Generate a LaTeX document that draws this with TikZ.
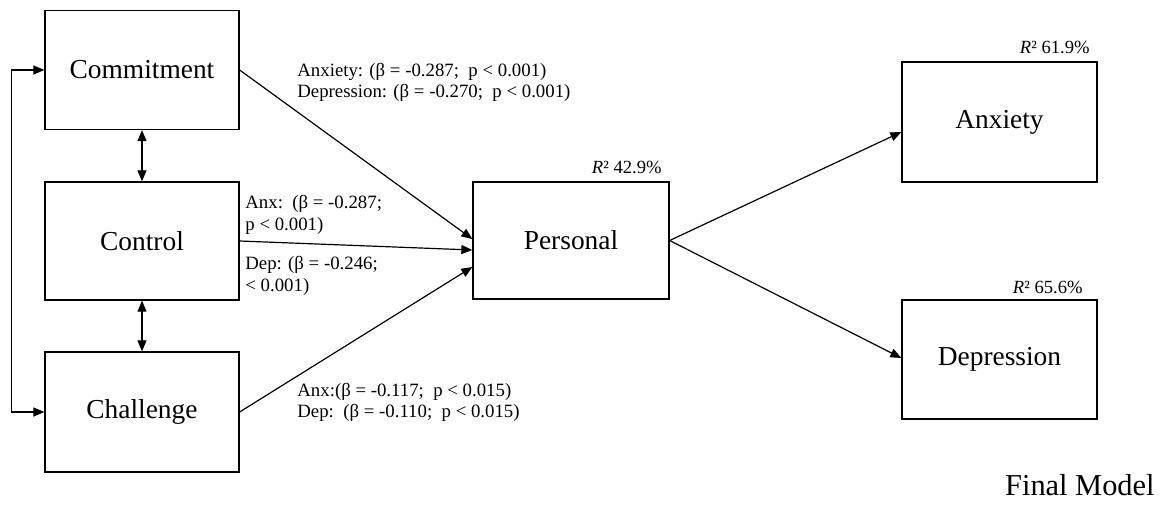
\documentclass[tikz,border=0pt]{standalone}
\usepackage{fontspec}
\setmainfont{Liberation Serif}
\usetikzlibrary{arrows.meta}
\begin{document}
\begin{tikzpicture}[x=0.5pt,y=-0.5pt,
  box/.style={draw, line width=0.65pt, inner sep=0pt, font=\fontsize{13.7}{16}\selectfont},
  arr/.style={line width=0.6pt, -{Triangle[length=5.5pt,width=4.5pt]}},
  darr/.style={line width=0.6pt, {Triangle[length=5.5pt,width=4.5pt]}-{Triangle[length=5.5pt,width=4.5pt]}},
  lbl/.style={inner sep=0pt, align=left, font=\fontsize{9.4}{10.8}\selectfont},
  rsq/.style={inner sep=0pt, font=\fontsize{9.3}{11}\selectfont}]
\useasboundingbox (0,0) rectangle (1163,515);
\node[box, minimum width=97pt, minimum height=59.5pt] (com) at (142,70) {Commitment};
\node[box, minimum width=97pt, minimum height=59pt] (con) at (142,241) {Control};
\node[box, minimum width=97pt, minimum height=60pt] (cha) at (142,412) {Challenge};
\node[box, minimum width=98pt, minimum height=58.5pt] (per) at (571,240.5) {Personal};
\node[box, minimum width=97.5pt, minimum height=60pt] (anx) at (999.5,122) {Anxiety};
\node[box, minimum width=97.5pt, minimum height=59.5pt] (dep) at (999.5,359.5) {Depression};

\draw[darr] (com.south) -- (con.north);
\draw[darr] (con.south) -- (cha.north);
\draw[darr] (com.west) -- ++(-33,0) |- (cha.west);

\draw[arr] (com.east) -- ([yshift=0.75pt]per.west);
\draw[arr] (con.east) -- ([yshift=-4.75pt]per.west);
\draw[arr] (cha.east) -- ([yshift=-13.25pt]per.west);
\draw[arr] (per.east) -- ([yshift=-5pt]anx.west);
\draw[arr] (per.east) -- ([yshift=0.75pt]dep.west);

\node[lbl, anchor=west] (l1) at (297,82.5) {Anxiety: (β = -0.287;\ \ p < 0.001)\\Depression: (β = -0.270;\ \ p < 0.001)};
\node[lbl, anchor=west] (l2) at (245,215) {Anx:\ \ (β = -0.287;\\p < 0.001)};
\node[lbl, anchor=west] (l3) at (245,276) {Dep: (β = -0.246;\\< 0.001)};
\node[lbl, anchor=west] (l4) at (297,402.5) {Anx:(β = -0.117;\ \ p < 0.015)\\Dep:\ \ (β = -0.110;\ \ p < 0.015)};

\node[rsq, anchor=east] (r1) at (662,167) {\textit{R}² 42.9\%};
\node[rsq, anchor=east] (r2) at (1090,47) {\textit{R}² 61.9\%};
\node[rsq, anchor=east] (r3) at (1083,287) {\textit{R}² 65.6\%};

\node[inner sep=0pt, anchor=east, font=\fontsize{15.2}{18}\selectfont] (fm) at (1155,485) {Final Model};
\end{tikzpicture}
\end{document}
